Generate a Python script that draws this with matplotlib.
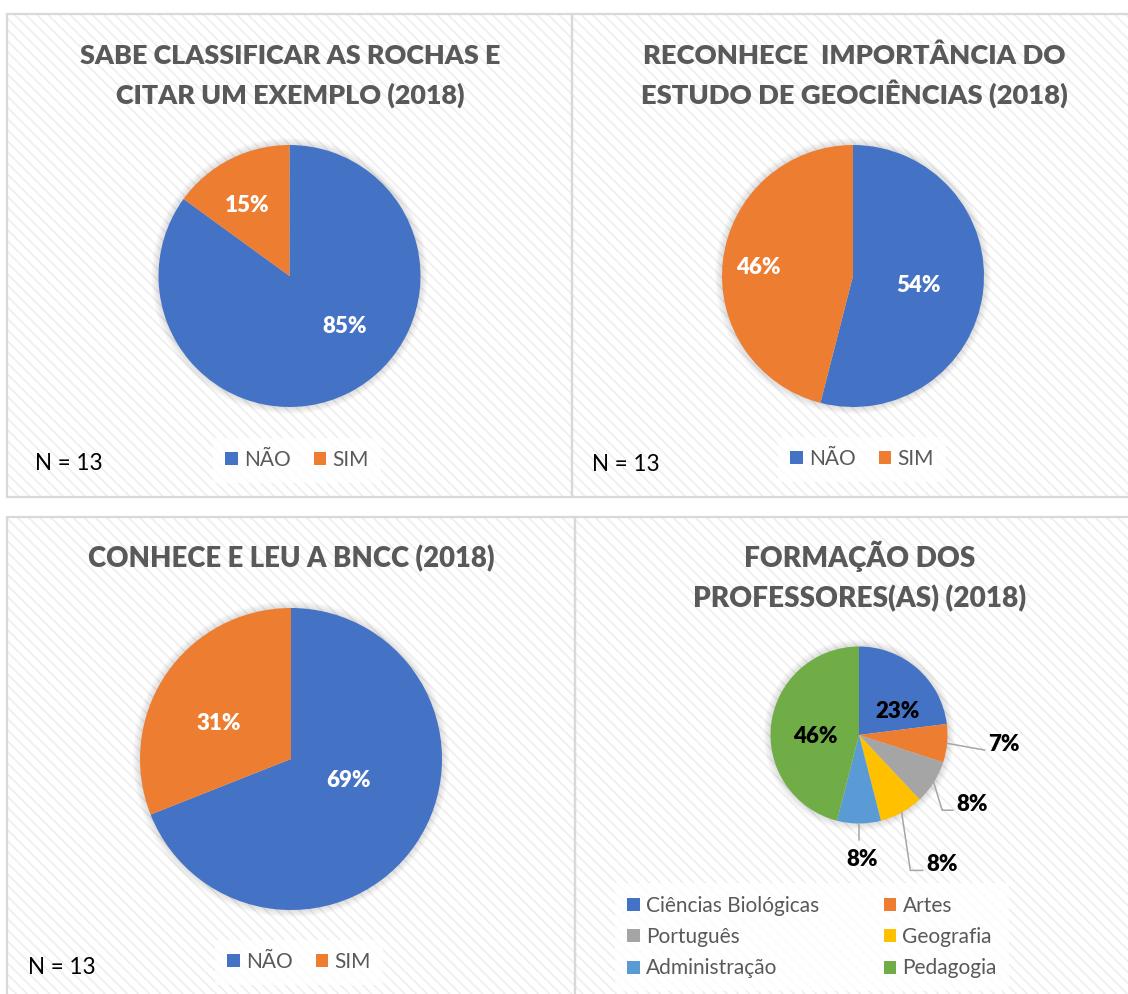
import matplotlib
matplotlib.use("Agg")
import matplotlib.pyplot as plt
from matplotlib.patches import Rectangle, Circle
from matplotlib.legend import Legend
import numpy as np

plt.rcParams['font.family'] = ['Lato', 'DejaVu Sans']
plt.rcParams['hatch.linewidth'] = 1.2

# ---------------- data ----------------
titles_rochas = ["SABE CLASSIFICAR AS ROCHAS E", "CITAR UM EXEMPLO (2018)"]
titles_geo = ["RECONHECE  IMPORTÂNCIA DO", "ESTUDO DE GEOCIÊNCIAS (2018)"]
titles_bncc = ["CONHECE E LEU A BNCC (2018)"]
titles_form = ["FORMAÇÃO DOS", "PROFESSORES(AS) (2018)"]

yn_labels = ["NÃO", "SIM"]
rochas = [85, 15]
geociencias = [54, 46]
bncc = [69, 31]

formacao_labels = ["Ciências Biológicas", "Artes", "Português",
                   "Geografia", "Administração", "Pedagogia"]
formacao = [23, 7, 8, 8, 8, 46]

n_text = "N = 13"

# ---------------- style ----------------
W, H, DPI = 1128, 994, 100
YN_COLORS = ['#4472C4', '#ED7D31']
FORM_COLORS = ['#4472C4', '#ED7D31', '#A5A5A5', '#FFC000', '#5B9BD5', '#70AD47']
TITLE_C = '#595959'
LEG_C = '#595959'
LBL_FS = 16
LEG_FS = 15

fig = plt.figure(figsize=(W / DPI, H / DPI), dpi=DPI)
ax = fig.add_axes([0, 0, 1, 1])


def Y(py):
    return H - py


# panel frames (x0, y0, x1, y1) in pixels (top-down)
panels = [(7, 14, 572, 497), (572, 14, 1131, 497),
          (7, 517, 575, 997), (575, 517, 1131, 997)]
for (x0, y0, x1, y1) in panels:
    ax.add_patch(Rectangle((x0, Y(y1)), x1 - x0, y1 - y0, facecolor='white',
                           edgecolor='#eeeeee', hatch='\\\\\\', linewidth=0,
                           zorder=0))
    ax.add_patch(Rectangle((x0, Y(y1)), x1 - x0, y1 - y0, fill=False,
                           edgecolor='#d9d9d9', linewidth=1.6, zorder=0.2))

renderer = fig.canvas.get_renderer()


def title(lines, cx, baselines, target_w):
    ts = [ax.text(cx, Y(b), s, ha='center', va='baseline', color=TITLE_C,
                  fontweight='heavy', fontsize=20) for s, b in zip(lines, baselines)]
    widest = max(ts, key=lambda t: t.get_window_extent(renderer).width)
    w = widest.get_window_extent(renderer).width
    fs = 20 * target_w / w
    for t in ts:
        t.set_fontsize(fs)


def ntext(x, baseline):
    t = ax.text(x, Y(baseline), n_text, ha='left', va='baseline', color='black',
                fontsize=16)
    w = t.get_window_extent(renderer).width
    t.set_fontsize(16 * 68 / w)


def shadow(cx, cy, r):
    for k in range(1, 9):
        ax.add_patch(Circle((cx, Y(cy)), r + k * 0.9, facecolor='black',
                            alpha=0.014, linewidth=0, zorder=0.5))


def pie(vals, colors, cx, cy, r, lbl_pos, lbl_color):
    shadow(cx, cy, r)
    wedges, _, autos = ax.pie(vals, colors=colors, startangle=90,
                              counterclock=False, center=(cx, Y(cy)), radius=r,
                              autopct='%1.0f%%', frame=True,
                              wedgeprops=dict(linewidth=0),
                              textprops=dict(color=lbl_color, fontweight='heavy',
                                             fontsize=LBL_FS))
    for t, (dx, dy) in zip(autos, lbl_pos):
        t.set_position((cx + dx * r, Y(cy) + dy * r))
        t.set_va('center_baseline')
    return wedges


def legend(handles, labels, cx, cy, ncol, colsp, labsp=0.35):
    leg = Legend(ax, handles, labels, loc='center',
                 bbox_to_anchor=(cx, Y(cy)), bbox_transform=ax.transData,
                 ncol=ncol, frameon=True, fancybox=False, framealpha=0.8,
                 facecolor='white', edgecolor='none', fontsize=LEG_FS,
                 handlelength=0.6, handleheight=0.6, handletextpad=0.3,
                 columnspacing=colsp, labelspacing=labsp, borderpad=0.6,
                 labelcolor=LEG_C)
    ax.add_artist(leg)


# Panel 1
title(titles_rochas, 290, [64, 104], 420)
w1 = pie(rochas, YN_COLORS, 289.5, 276, 131,
         [(0.42, -0.37), (-0.32, 0.55)], 'white')
legend(w1, yn_labels, 297, 460, 2, 1.1)
ntext(35, 470)

# Panel 2
title(titles_geo, 854, [64, 104], 428)
w2 = pie(geociencias, YN_COLORS, 853, 276, 131,
         [(0.50, -0.06), (-0.72, 0.08)], 'white')
legend(w2, yn_labels, 862, 459, 2, 1.1)
ntext(592, 471)

# Panel 3
title(titles_bncc, 291, [567], 406)
w3 = pie(bncc, YN_COLORS, 291, 759, 151,
         [(0.38, -0.13), (-0.48, 0.25)], 'white')
legend(w3, yn_labels, 299, 962, 2, 1.1)
ntext(28, 974)

# Panel 4
title(titles_form, 860, [567, 607], 332)
cx4, cy4, r4 = 859, 735, 88.5
w4 = pie(formacao, FORM_COLORS, cx4, cy4, r4,
         [(0.44, 0.29), (1.64, -0.08), (1.28, -0.76), (0.94, -1.44),
          (0.03, -1.38), (-0.49, 0.01)], 'black')
# leader lines for the outside labels: (wedge index, path points in radius units)
leaders = [(1, [(1.42, -0.17)]),
           (2, [(0.94, -0.85), (1.06, -0.85)]),
           (3, [(0.58, -1.53), (0.72, -1.53)]),
           (4, [(0.0, -1.19)])]
for idx, pts in leaders:
    wdg = w4[idx]
    mid = np.deg2rad((wdg.theta1 + wdg.theta2) / 2)
    xs = [cx4 + r4 * np.cos(mid)] + [cx4 + p[0] * r4 for p in pts]
    ys = [Y(cy4) + r4 * np.sin(mid)] + [Y(cy4) + p[1] * r4 for p in pts]
    ax.plot(xs, ys, color='#a6a6a6', linewidth=1.1, zorder=3)
# legend reads row by row (2 columns), matplotlib fills column by column
order = [0, 2, 4, 1, 3, 5]
legend([w4[i] for i in order], [formacao_labels[i] for i in order],
       812, 937, 2, 3.1, 0.55)

ax.set_xlim(0, W)
ax.set_ylim(0, H)
ax.set_aspect('auto')
ax.axis('off')

fig.savefig('out.png', dpi=DPI, facecolor='white')
